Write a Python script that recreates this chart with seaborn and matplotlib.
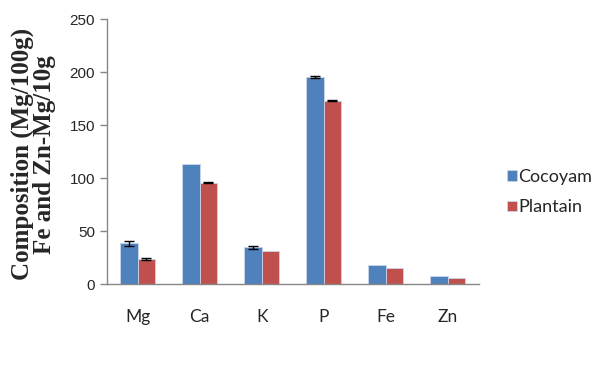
import numpy as np
import pandas as pd
import matplotlib
matplotlib.use("Agg")
import matplotlib.pyplot as plt
import seaborn as sns

# valeurs
minerals = ["Mg", "Ca", "K", "P", "Fe", "Zn"]
cocoyam = [38.4, 113.5, 34.8, 195.5, 17.6, 7.2]
plantain = [23.6, 95.6, 30.8, 173.0, 15.2, 5.6]
cocoyam_err = [2.5, 0.0, 1.5, 0.6, 0.0, 0.0]
plantain_err = [0.6, 0.6, 0.0, 0.4, 0.0, 0.0]
series = ["Cocoyam", "Plantain"]
colors = ["#4F81BD", "#C0504D"]

sns.set_theme(style="white")
plt.rcParams["font.family"] = ["Liberation Sans", "DejaVu Sans"]

df = pd.DataFrame({
    "mineral": minerals * 2,
    "value": cocoyam + plantain,
    "err": cocoyam_err + plantain_err,
    "sample": [series[0]] * len(minerals) + [series[1]] * len(minerals),
})

fig = plt.figure(figsize=(6, 3.69), dpi=100)
ax = fig.add_axes([0.178, 0.23, 0.62, 0.718])

sns.barplot(data=df, x="mineral", y="value", hue="sample", order=minerals,
            hue_order=series, palette=colors, width=0.56, errorbar=None,
            saturation=1, edgecolor="#c9d6ea", linewidth=0.6, ax=ax)

# barres d'erreur posées sur les rectangles
for cont, errs in zip(ax.containers, [cocoyam_err, plantain_err]):
    for bar, e in zip(cont, errs):
        if e > 0:
            ax.errorbar(bar.get_x() + bar.get_width() / 2, bar.get_height(), yerr=e,
                        fmt="none", ecolor="black", elinewidth=1, capsize=3.5, capthick=1)

ax.set_ylim(0, 250)
ax.set_yticks(range(0, 251, 50))
ax.set_xlim(-0.5, len(minerals) - 0.5)
ax.set_xticks(np.arange(-0.5, len(minerals), 1), minor=True)
ax.tick_params(axis="x", which="major", length=0, pad=18)
ax.tick_params(axis="x", which="minor", length=5, width=1, color="#868686", direction="out")
ax.tick_params(axis="y", length=5, width=1, color="#868686", direction="out", left=True, labelsize=11)
for lab in ax.get_xticklabels():
    lab.set_family(["Lato", "DejaVu Sans"])
    lab.set_fontsize(12.5)

for s in ["top", "right"]:
    ax.spines[s].set_visible(False)
for s in ["left", "bottom"]:
    ax.spines[s].set_color("#868686")
    ax.spines[s].set_linewidth(1)

ax.set_xlabel("")
ax.set_ylabel("Composition (Mg/100g)\nFe and Zn-Mg/10g", fontsize=18, fontweight="bold",
              family=["Liberation Serif", "DejaVu Serif"], linespacing=0.95)
ax.yaxis.set_label_coords(-0.137, 0.49)

leg = ax.legend(loc="center left", bbox_to_anchor=(1.056, 0.347), frameon=False,
                prop={"family": "Lato", "size": 13}, borderaxespad=0,
                handlelength=0.55, handleheight=0.55, handletextpad=0.1, labelspacing=0.8)

fig.savefig("out.png", dpi=100)
